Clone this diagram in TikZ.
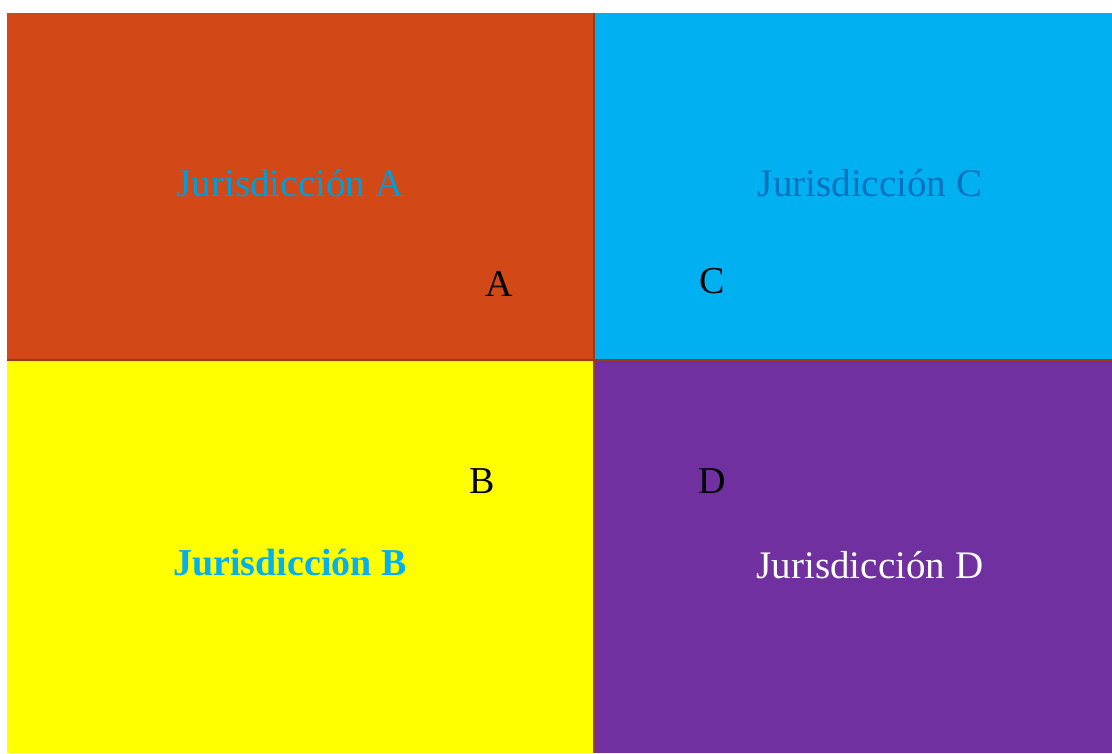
\documentclass[tikz,border=0pt]{standalone}
\usepackage{fontspec}
\setmainfont{Liberation Serif}
\usepackage{tikz}
\usetikzlibrary{positioning, calc}
\definecolor{juraorange}{HTML}{D24817}
\definecolor{jurcblue}{HTML}{00B0F0}
\definecolor{jurbyellow}{HTML}{FFFF00}
\definecolor{jurdviolet}{HTML}{7030A0}
\definecolor{labelblue}{HTML}{0070C0}
\definecolor{borderbrown}{HTML}{9C3A1A}
\tikzset{
  % Quadrant fields
  region/.style={
    rectangle, anchor=north west, inner sep=0pt, outer sep=0pt,
    fill=#1, draw=none,
  },
  region/.default={juraorange},
  % Big titles
  jurtitle/.style={font=\fontsize{39}{45}\selectfont, text=#1},
  jurtitle/.default={jurcblue},
  % Single letters
  letter/.style={font=\fontsize{38}{44}\selectfont, text=black},
  % Dividers
  divider/.style={draw=borderbrown, line width=1.5pt},
}
\begin{document}
\begin{tikzpicture}[x=1pt, y=-1pt]
  \useasboundingbox (0,0) rectangle (1112,753);

  % Quadrants
  \node[region=juraorange, minimum width=587pt, minimum height=347pt] (ra) at (7,13) {};
  \node[region=jurcblue, minimum width=518pt, minimum height=347pt] (rc) at (594,13) {};
  \node[region=jurbyellow, minimum width=587pt, minimum height=393pt] (rb) at (7,360) {};
  \node[region=jurdviolet, minimum width=518pt, minimum height=393pt] (rd) at (594,360) {};

  % Dividing lines
  \draw[divider] (ra.north east) -- (rb.south east);
  \draw[divider] (ra.south west) -- (rc.south east);

  % Titles
  \node[jurtitle=jurcblue!90!black] (ta) at (290,183) {Jurisdicción A};
  \node[jurtitle=labelblue] (tc) at (870,183) {Jurisdicción C};
  \node[jurtitle=jurcblue, font=\fontsize{38}{44}\selectfont\bfseries] (tb) at (290,563) {Jurisdicción B};
  \node[jurtitle=white] (td) at (870,565) {Jurisdicción D};

  % Letters
  \node[letter] (la) at (499,284) {A};
  \node[letter] (lc) at (712,281) {C};
  \node[letter] (lb) at (482,481) {B};
  \node[letter] (ld) at (712,481) {D};

\end{tikzpicture}
\end{document}
